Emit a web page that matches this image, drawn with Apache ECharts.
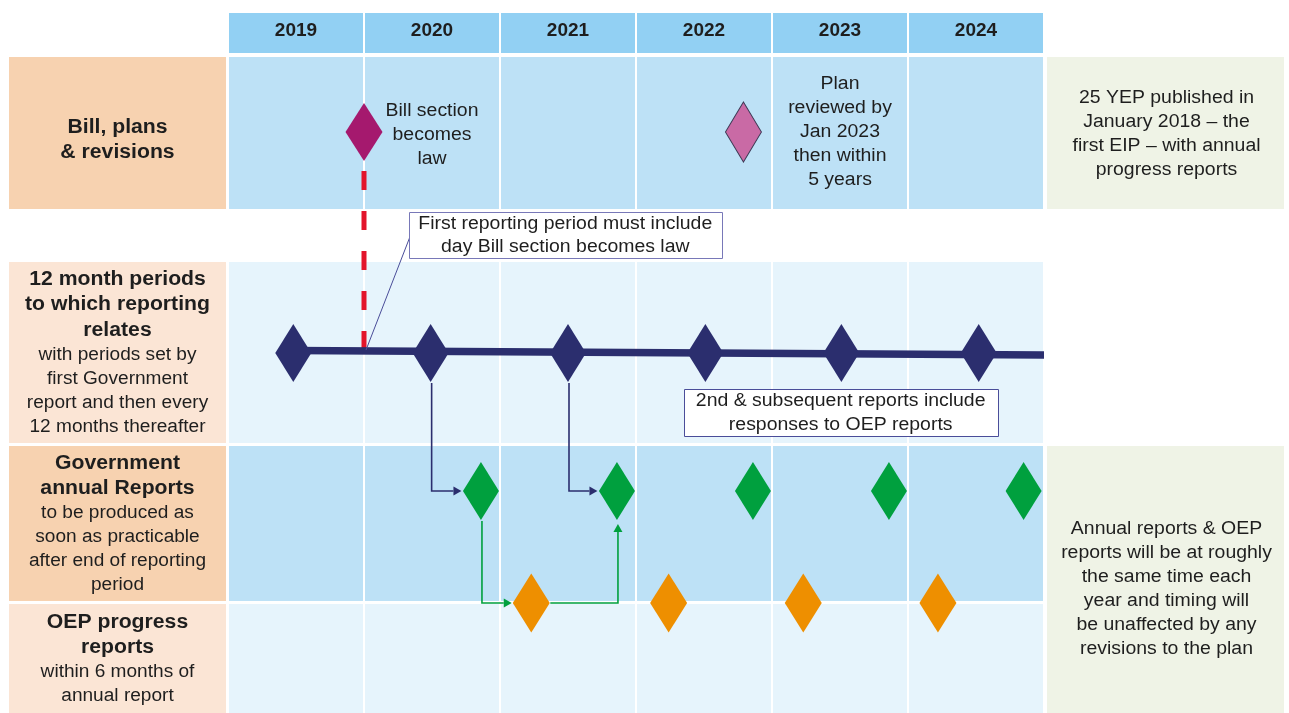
<!DOCTYPE html>
<html>
<head>
<meta charset="utf-8">
<script src="https://cdn.jsdelivr.net/npm/echarts@6/dist/echarts.min.js"></script>
<style>
html,body{margin:0;padding:0;background:#ffffff;}
#chart{width:1289px;height:713px;}
</style>
</head>
<body>
<div id="chart"></div>
<script>
// ================= DATA =================
const years = [2019, 2020, 2021, 2022, 2023, 2024];
const yearLabels = ['2019', '2020', '2021', '2022', '2023', '2024'];
const billLaw = [2020.0];                 // Bill section becomes law
const planReview = [2022.79];             // Plan reviewed
const periodMarks = [2019.48, 2020.49, 2021.5, 2022.51, 2023.51, 2024.52]; // 12 month periods
const govReports = [2020.86, 2021.86, 2022.86, 2023.86, 2024.85];          // Government annual reports
const oepReports = [2021.23, 2022.24, 2023.23, 2024.22];                   // OEP progress reports
const rowTitles = ['Bill, plans\n& revisions', '12 month periods\nto which reporting\nrelates', 'Government\nannual Reports', 'OEP progress\nreports'];
const rowNotes = ['', 'with periods set by\nfirst Government\nreport and then every\n12 months thereafter', 'to be produced as\nsoon as practicable\nafter end of reporting\nperiod', 'within 6 months of\nannual report'];
const sideNotes = ['25 YEP published in\nJanuary 2018 – the\nfirst EIP – with annual\nprogress reports', 'Annual reports & OEP\nreports will be at roughly\nthe same time each\nyear and timing will\nbe unaffected by any\nrevisions to the plan'];
const cellNotes = ['Bill section\nbecomes\nlaw', 'Plan\nreviewed by\nJan 2023\nthen within\n5 years'];
const calloutTexts = ['First reporting period must include\nday Bill section becomes law', '2nd & subsequent reports include\nresponses to OEP reports'];

// ================= LAYOUT / STYLE =================
const L = {
  gridLeft: 228, gridRight: 245,
  rows: [[13, 53], [57, 209], [262, 443], [446, 601], [604, 713]], // header, bill, periods, gov, oep
  lane: { bill: 132, periods: 353, gov: 491, oep: 603 },
  labelX: 9, labelW: 217,
  noteX: 1047, noteW: 237,
  cellNoteAt: [[2020.5, 135], [2023.5, 132]],
  labelCenterY: [140, 352.5, 524, 659],
  sideNoteRows: [[57, 209], [446, 713]],
  sideNoteCenterY: [134, 589],
  callouts: [
    { x: [2020.33, 2022.63], y: [212, 258], border: '#7878B8', leaderFrom: 237 },
    { x: [2022.35, 2024.66], y: [389, 436], border: '#4A4D99' }
  ]
};
const C = {
  header: '#92D0F3', cellDark: '#BDE1F6', cellLight: '#E6F4FC',
  labelDark: '#F7D2B0', labelLight: '#FBE5D5', note: '#EFF3E6',
  navy: '#2B2E6E', green: '#00A03E', orange: '#EE8F00',
  magenta: '#A5196E', pink: '#C96AA5', red: '#E3142B', text: '#1E1E1E'
};
const rowFill = [C.header, C.cellDark, C.cellLight, C.cellDark, C.cellLight];
const labelFill = [C.labelDark, C.labelLight, C.labelDark, C.labelLight];
const FONT = "'Liberation Sans', Arial, sans-serif";
const SX = 1.08;

// ================= CHART =================
const chart = echarts.init(document.getElementById('chart'), null, { renderer: 'canvas' });

const cellData = [];
for (let r = 0; r < L.rows.length; r++) years.forEach((y, i) => cellData.push([y, r, i]));

const connectors = [
  { from: [periodMarks[1], 'periods'], to: [govReports[0], 'gov'], route: 'down-right', color: C.navy },
  { from: [periodMarks[2], 'periods'], to: [govReports[1], 'gov'], route: 'down-right', color: C.navy },
  { from: [govReports[0], 'gov'], to: [oepReports[0], 'oep'], route: 'down-right', color: C.green },
  { from: [oepReports[0], 'oep'], to: [govReports[1], 'gov'], route: 'right-up', color: C.green }
];

const graphics = [];
rowTitles.forEach((t, i) => {
  const [top, bot] = L.rows[i + 1];
  graphics.push({ type: 'rect', silent: true, z: 1, shape: { x: L.labelX, y: top, width: L.labelW, height: bot - top }, style: { fill: labelFill[i] } });
  const bold = t.split('\n').map(s => '{b|' + s + '}');
  const norm = rowNotes[i] ? rowNotes[i].split('\n').map(s => '{n|' + s + '}') : [];
  graphics.push({
    type: 'text', silent: true, z: 5, x: L.labelX + L.labelW / 2, y: L.labelCenterY[i], scaleX: 1.06,
    style: {
      text: bold.concat(norm).join('\n'), align: 'center', verticalAlign: 'middle', fill: C.text,
      rich: {
        b: { fontFamily: FONT, fontWeight: 'bold', fontSize: 20, lineHeight: 25.5, fill: C.text, align: 'center' },
        n: { fontFamily: FONT, fontSize: 18, lineHeight: 24, fill: C.text, align: 'center' }
      }
    }
  });
});
sideNotes.forEach((t, i) => {
  const [top, bot] = L.sideNoteRows[i];
  graphics.push({ type: 'rect', silent: true, z: 1, shape: { x: L.noteX, y: top, width: L.noteW, height: bot - top }, style: { fill: C.note } });
  graphics.push({
    type: 'text', silent: true, z: 5, x: L.noteX + L.noteW / 2 + 1, y: L.sideNoteCenterY[i], scaleX: SX,
    style: { text: t, align: 'center', verticalAlign: 'middle', fontFamily: FONT, fontSize: 18, lineHeight: 24, fill: C.text }
  });
});

function diamondSeries(name, xs, lane, color, size, border) {
  const itemStyle = { color, opacity: 1 };
  if (border) { itemStyle.borderColor = border; itemStyle.borderWidth = 1; }
  return {
    name, type: 'scatter', silent: true, z: 6,
    symbol: 'diamond', symbolSize: size,
    data: xs.map(x => [x, L.lane[lane]]),
    itemStyle
  };
}

const option = {
  animation: false,
  backgroundColor: '#ffffff',
  grid: { left: L.gridLeft, right: L.gridRight, top: 0, bottom: 0, containLabel: false },
  xAxis: { type: 'value', min: 2019, max: 2025, show: false },
  yAxis: { type: 'value', min: 0, max: 713, inverse: true, show: false },
  graphic: graphics,
  series: [
    {
      name: 'cells', type: 'custom', silent: true, z: 1, clip: false,
      data: cellData,
      renderItem(params, api) {
        const yr = api.value(0), r = api.value(1), idx = api.value(2);
        const [t, b] = L.rows[r];
        const p0 = api.coord([yr, t]), p1 = api.coord([yr + 1, b]);
        const rect = { type: 'rect', shape: { x: p0[0] + 1, y: p0[1], width: p1[0] - p0[0] - 2, height: p1[1] - p0[1] }, style: { fill: rowFill[r] } };
        if (r !== 0) return rect;
        const c = api.coord([yr + 0.5, 31]);
        return {
          type: 'group', children: [rect, {
            type: 'text', x: c[0], y: c[1],
            style: { text: yearLabels[idx], align: 'center', verticalAlign: 'middle', fontFamily: FONT, fontWeight: 'bold', fontSize: 19, fill: C.text }
          }]
        };
      }
    },
    {
      name: 'cellNotes', type: 'custom', silent: true, z: 5, clip: false,
      data: cellNotes.map((t, i) => [L.cellNoteAt[i][0], L.cellNoteAt[i][1], i]),
      renderItem(params, api) {
        const p = api.coord([api.value(0), api.value(1)]);
        return { type: 'text', x: p[0], y: p[1], scaleX: SX, style: { text: cellNotes[api.value(2)], align: 'center', verticalAlign: 'middle', fontFamily: FONT, fontSize: 18, lineHeight: 24, fill: C.text } };
      }
    },
    {
      name: 'lawLine', type: 'line', silent: true, z: 3, symbol: 'none',
      data: [[billLaw[0], L.lane.bill + 39], [billLaw[0], L.lane.periods - 4]],
      lineStyle: { color: C.red, width: 5, type: [19, 21] }
    },
    {
      name: 'periodLine', type: 'line', silent: true, z: 4, symbol: 'none',
      data: [[periodMarks[0], L.lane.periods - 2.5], [2025, L.lane.periods + 2]],
      lineStyle: { color: C.navy, width: 7.5, cap: 'butt' }
    },
    {
      name: 'connectors', type: 'custom', silent: true, z: 5, clip: false,
      data: connectors.map((c, i) => [c.from[0], c.to[0], i]),
      renderItem(params, api) {
        const c = connectors[api.value(2)];
        const a = api.coord([c.from[0], L.lane[c.from[1]]]);
        const b = api.coord([c.to[0], L.lane[c.to[1]]]);
        const hw = 18, hh = 29;
        let pts;
        if (c.route === 'down-right') {
          pts = [[a[0] + 1, a[1] + hh + 1], [a[0] + 1, b[1]], [b[0] - hw - 1.5, b[1]]];
        } else {
          pts = [[a[0] + hw + 1, a[1]], [b[0] + 1, a[1]], [b[0] + 1, b[1] + hh + 4]];
        }
        const n = pts.length, tip = pts[n - 1], prev = pts[n - 2];
        const dx = tip[0] - prev[0], dy = tip[1] - prev[1], len = Math.hypot(dx, dy);
        const ux = dx / len, uy = dy / len, al = 8, aw = 4.5;
        const base = [tip[0] - ux * al, tip[1] - uy * al];
        const linePts = pts.slice(0, n - 1).concat([base]);
        return {
          type: 'group', children: [
            { type: 'polyline', shape: { points: linePts }, style: { stroke: c.color, lineWidth: 1.6, fill: null } },
            { type: 'polygon', shape: { points: [tip, [base[0] - uy * aw, base[1] + ux * aw], [base[0] + uy * aw, base[1] - ux * aw]] }, style: { fill: c.color } }
          ]
        };
      }
    },
    diamondSeries('periods', periodMarks, 'periods', C.navy, [36, 58]),
    diamondSeries('govReports', govReports, 'gov', C.green, [36, 58]),
    diamondSeries('oepReports', oepReports, 'oep', C.orange, [37, 59]),
    diamondSeries('billLaw', billLaw, 'bill', C.magenta, [37, 58]),
    diamondSeries('planReview', planReview, 'bill', C.pink, [36, 60], '#3E3A55'),
    {
      name: 'callouts', type: 'custom', silent: true, z: 7, clip: false,
      data: L.callouts.map((c, i) => [c.x[0], c.y[0], i]),
      renderItem(params, api) {
        const i = api.value(2), c = L.callouts[i];
        const p0 = api.coord([c.x[0], c.y[0]]), p1 = api.coord([c.x[1], c.y[1]]);
        const children = [];
        if (c.leaderFrom) {
          const end = api.coord([billLaw[0], L.lane.periods - 3]);
          children.push({ type: 'line', shape: { x1: p0[0] + 1, y1: c.leaderFrom, x2: end[0] + 2, y2: end[1] }, style: { stroke: '#4A4D99', lineWidth: 1 } });
        }
        children.push({ type: 'rect', shape: { x: Math.round(p0[0]) + 0.5, y: Math.round(p0[1]) + 0.5, width: Math.round(p1[0] - p0[0]), height: Math.round(p1[1] - p0[1]) }, style: { fill: '#ffffff', stroke: c.border, lineWidth: 1 } });
        children.push({ type: 'text', x: (p0[0] + p1[0]) / 2, y: (p0[1] + p1[1]) / 2 + 0.5, scaleX: SX, style: { text: calloutTexts[i], align: 'center', verticalAlign: 'middle', fontFamily: FONT, fontSize: 18, lineHeight: 23.5, fill: C.text } });
        return { type: 'group', children };
      }
    }
  ]
};
chart.setOption(option);
</script>
</body>
</html>
